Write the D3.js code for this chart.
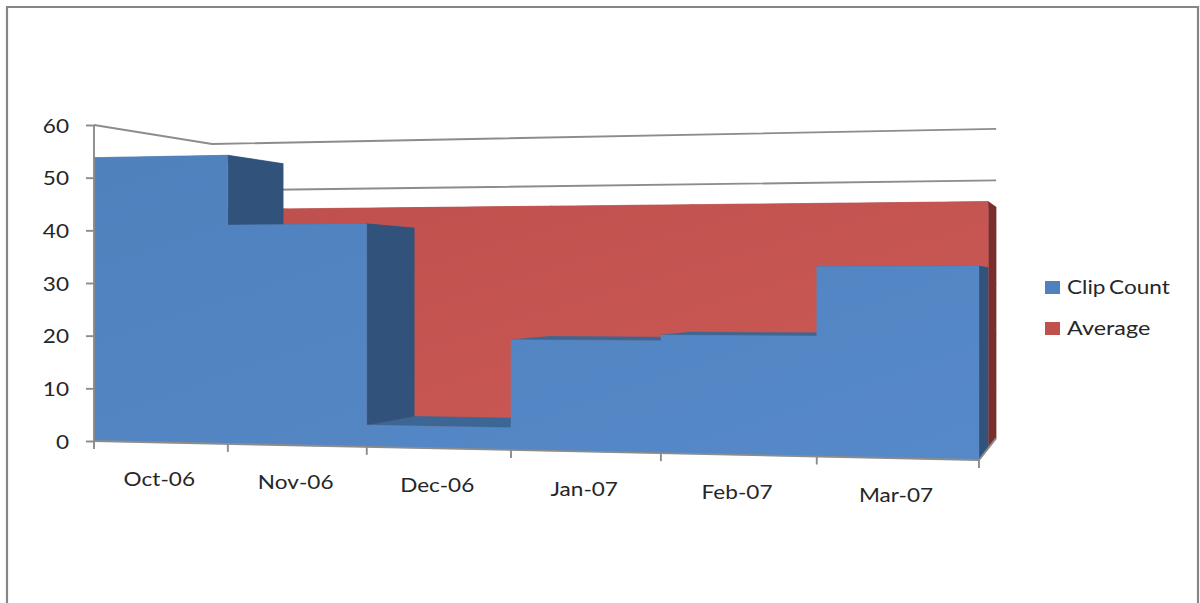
<!DOCTYPE html>
<html>
<head>
<meta charset="utf-8">
<script src="https://cdn.jsdelivr.net/npm/d3@7"></script>
<style>
  html, body { margin: 0; padding: 0; background: #fff; overflow: hidden; }
  text { font-family: Lato, "Open Sans", sans-serif; fill: #262626; word-spacing: -2px; }
</style>
</head>
<body>
<script>
// values
const categories = ["Oct-06", "Nov-06", "Dec-06", "Jan-07", "Feb-07", "Mar-07"];
const clipCount = [53.8, 40.8, 4, 19.8, 20.8, 32.8];
const average = [44.8, 44.8, 44.8, 44.8, 44.8, 44.8];
const yTicks = [0, 10, 20, 30, 40, 50, 60];
const seriesNames = ["Clip Count", "Average"];

const width = 1200, height = 603;
const axisColor = "#8c8c8c";

const svg = d3.select("body").append("svg")
  .attr("width", width)
  .attr("height", height)
  .style("display", "block");

const defs = svg.append("defs");
function addGradient(id, from, to) {
  const g = defs.append("linearGradient").attr("id", id)
    .attr("x1", "0%").attr("y1", "0%").attr("x2", "100%").attr("y2", "100%");
  g.append("stop").attr("offset", "0%").attr("stop-color", from);
  g.append("stop").attr("offset", "100%").attr("stop-color", to);
}
addGradient("blueFace", "#4f81bd", "#5689c8");
addGradient("redFace", "#bf4f4c", "#cc5b57");

// outer frame, the picture cuts it off at the bottom
svg.append("path")
  .attr("d", "M7,610V7H1198V610")
  .attr("fill", "none")
  .attr("stroke", "#868686")
  .attr("stroke-width", 2.2);

// scales on the front plane at the near left corner
const xScale = d3.scaleLinear().domain([0, 6]).range([94, 94 + 6 * 129.72]);
const yScale = d3.scaleLinear().domain([0, 60]).range([441, 125]);

// perspective: category index u, value v, depth z (0 front, 1 back wall)
const shrinkU = -0.01816, shrinkZ = 0.131, slopeU = -5.19;
const vanish = [1113, 289];
function project(u, v, z) {
  const w = 1 + shrinkU * u + shrinkZ * z;
  return [
    (xScale(u) + vanish[0] * shrinkZ * z) / w,
    (yScale(v) + slopeU * u + vanish[1] * shrinkZ * z) / w
  ];
}

const poly = d3.line().curve(d3.curveLinearClosed);
const open = d3.line();

function quad(points, fill) {
  return svg.append("path")
    .attr("d", poly(points.map(p => project(p[0], p[1], p[2]))))
    .attr("fill", fill)
    .attr("stroke", fill)
    .attr("stroke-width", 0.4);
}

function wallLine(points) {
  svg.append("path")
    .attr("d", open(points.map(p => project(p[0], p[1], p[2]))))
    .attr("fill", "none")
    .attr("stroke", axisColor)
    .attr("stroke-width", 1.9);
}

// back wall and side wall gridlines
yTicks.forEach(t => {
  wallLine([[0, t, 0], [0, t, 1], [6, t, 1]]);
});

// step area with depth, drawn back to front
function stepArea(values, z0, z1, frontFill, topFill, sideFill) {
  const n = values.length;
  // top surfaces
  values.forEach((d, i) => {
    quad([[i, d, z0], [i + 1, d, z0], [i + 1, d, z1], [i, d, z1]], topFill);
  });
  // faces turned to the right, only where the next step goes down
  values.forEach((d, i) => {
    const next = i + 1 < n ? values[i + 1] : 0;
    if (next < d) {
      quad([[i + 1, d, z0], [i + 1, d, z1], [i + 1, next, z1], [i + 1, next, z0]], sideFill);
    }
  });
  // front face
  const outline = [[0, 0, z0]];
  values.forEach((d, i) => {
    outline.push([i, d, z0], [i + 1, d, z0]);
  });
  outline.push([n, 0, z0]);
  quad(outline, frontFill);
}

stepArea(average, 0.5, 1, "url(#redFace)", "#a5403e", "#7b2f2d");
stepArea(clipCount, 0, 0.5, "url(#blueFace)", "#3c6694", "#31527b");

// floor edges
wallLine([[0, 0, 0], [6, 0, 0], [6, 0, 1]]);

// y axis
const labelStretch = 1.13;
const yAxis = d3.axisLeft(yScale)
  .tickValues(yTicks)
  .tickSize(8)
  .tickPadding(0)
  .tickFormat(d3.format("d"));
const yG = svg.append("g")
  .attr("transform", "translate(94,0)")
  .call(yAxis);
yG.selectAll("path, line").attr("stroke", axisColor).attr("stroke-width", 1.9);
yG.select(".domain").attr("d", "M0,125V441");
yG.selectAll("text")
  .attr("x", null).attr("dy", null)
  .attr("text-anchor", "end")
  .attr("transform", "translate(-25,7) scale(" + labelStretch + ",1)")
  .style("font-family", null)
  .attr("font-size", 20);
yG.attr("font-family", null);

// x ticks follow the floor edge
d3.range(categories.length + 1).forEach(i => {
  const p = project(i, 0, 0);
  svg.append("line")
    .attr("x1", p[0]).attr("x2", p[0])
    .attr("y1", p[1]).attr("y2", p[1] + 8)
    .attr("stroke", axisColor)
    .attr("stroke-width", 1.9);
});

// x labels
svg.append("g").selectAll("text")
  .data(categories)
  .enter()
  .append("text")
  .attr("text-anchor", "middle")
  .attr("font-size", 20)
  .attr("transform", (d, i) => {
    const p = project(i + 0.5, 0, 0);
    return "translate(" + (p[0] - 1) + "," + (p[1] + 44) + ") scale(" + labelStretch + ",1)";
  })
  .text(d => d);

// legend
const legendColors = ["#4f81bd", "#c0504d"];
const legend = svg.append("g").selectAll("g")
  .data(seriesNames)
  .enter()
  .append("g")
  .attr("transform", (d, i) => "translate(1045," + (281 + i * 41) + ")");
legend.append("rect")
  .attr("width", 15)
  .attr("height", 13)
  .attr("fill", (d, i) => legendColors[i]);
legend.append("text")
  .attr("font-size", 20)
  .attr("transform", (d, i) => "translate(22,13) scale(" + (i ? 1.17 : labelStretch) + ",1)")
  .text(d => d);
</script>
</body>
</html>
